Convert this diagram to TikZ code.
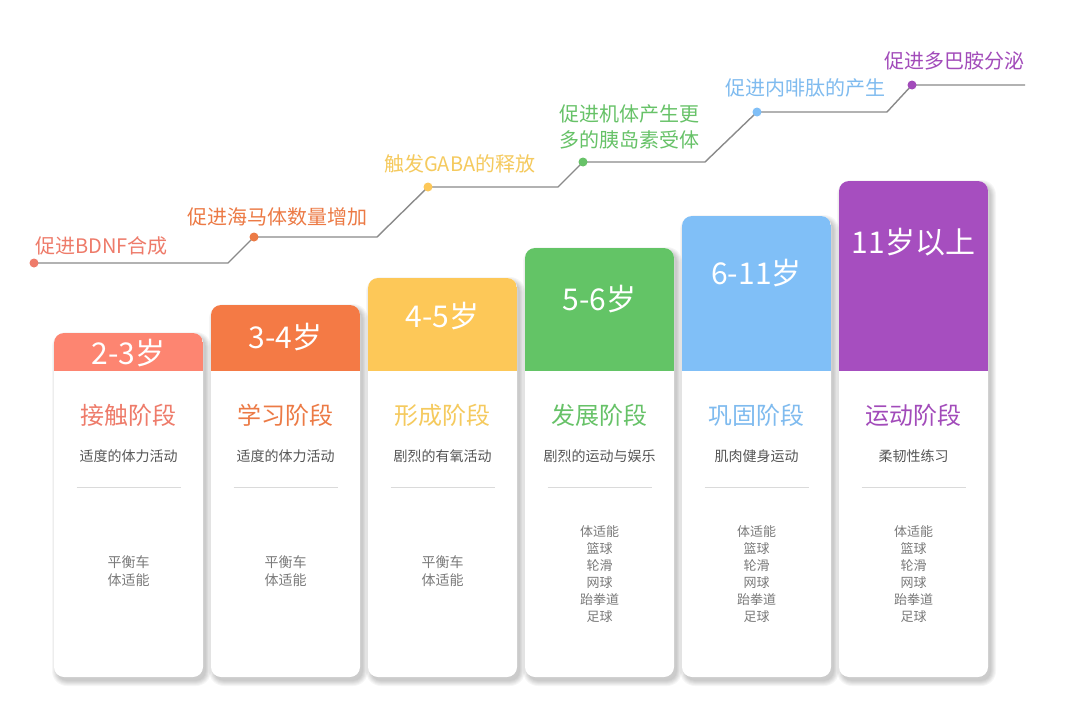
\documentclass[tikz,border=0pt]{standalone}
\usepackage{fontspec}
\setmainfont{Noto Sans CJK SC}
\definecolor{cA}{HTML}{FD8571}
\definecolor{cB}{HTML}{F47A45}
\definecolor{cC}{HTML}{FDC858}
\definecolor{cD}{HTML}{63C466}
\definecolor{cE}{HTML}{80BFF7}
\definecolor{cF}{HTML}{A64EBF}
\definecolor{tA}{HTML}{EE7B6A}
\definecolor{tB}{HTML}{EC7A45}
\definecolor{tC}{HTML}{F5CA5E}
\definecolor{tD}{HTML}{67C268}
\definecolor{tE}{HTML}{7FBBEF}
\definecolor{tF}{HTML}{A24BBA}
\definecolor{lineg}{HTML}{8A8A8A}
\definecolor{subg}{HTML}{555555}
\definecolor{listg}{HTML}{7A7A7A}
\definecolor{divg}{HTML}{DADADA}
\tikzset{
  shadowlayer/.style={fill=black, fill opacity=0.035},
  cardbody/.style={fill=white, rounded corners=10pt},
  agetext/.style={text=white, font=\fontsize{30}{34}\selectfont, inner sep=0pt},
  stagetitle/.style={font=\fontsize{24}{28}\selectfont, inner sep=0pt},
  subtext/.style={text=subg, font=\fontsize{14}{16}\selectfont, inner sep=0pt},
  listsmall/.style={text=listg, align=center, font=\fontsize{13}{17}\selectfont, inner sep=0pt},
  listbig/.style={text=listg, align=center, font=\fontsize{14}{18}\selectfont, inner sep=0pt},
  divline/.style={draw=divg, line width=0.8pt},
  tline/.style={draw=lineg, line width=1.4pt},
  tdot/.style={circle, inner sep=0pt, minimum size=9pt},
  tlabel/.style={anchor=west, inner sep=0pt, font=\fontsize{20}{26}\selectfont, align=left}
}
\newcommand{\stagecard}[7]{%
  \foreach \s in {0,1,2,3,4,5}{
    \fill[shadowlayer, rounded corners=10pt+\s pt] (#1-\s+3,#3-\s+4) rectangle (#2+\s+3,677+\s+4);
  }
  \path[cardbody] (#1,#3) rectangle (#2,677);
  \begin{scope}
    \clip[rounded corners=10pt] (#1,#3) rectangle (#2,677);
    \fill[#4] (#1,#3) rectangle (#2,371);
  \end{scope}
  \node[agetext] (h#5) at ({(#1+#2)/2},#6) {#7};
}
\begin{document}
\begin{tikzpicture}[x=1pt,y=-1pt]
\fill[white] (0,0) rectangle (1080,720);
\useasboundingbox (0,0) rectangle (1080,720);

% cards
\stagecard{54}{203}{333}{cA}{1}{353}{2-3岁}
\stagecard{211}{360}{305}{cB}{2}{337}{3-4岁}
\stagecard{368}{517}{278}{cC}{3}{316}{4-5岁}
\stagecard{525}{674}{248}{cD}{4}{299}{5-6岁}
\stagecard{682}{831}{216}{cE}{5}{273}{6-11岁}
\stagecard{839}{988}{181}{cF}{6}{242}{11岁以上}

% titles
\node[stagetitle, text=tA] (t1) at (128.5,415) {接触阶段};
\node[stagetitle, text=tB] (t2) at (285.5,415) {学习阶段};
\node[stagetitle, text=tC] (t3) at (442.5,415) {形成阶段};
\node[stagetitle, text=tD] (t4) at (599.5,415) {发展阶段};
\node[stagetitle, text=tE] (t5) at (756.5,415) {巩固阶段};
\node[stagetitle, text=tF] (t6) at (913.5,415) {运动阶段};

% subtitles
\node[subtext] (s1) at (128.5,456) {适度的体力活动};
\node[subtext] (s2) at (285.5,456) {适度的体力活动};
\node[subtext] (s3) at (442.5,456) {剧烈的有氧活动};
\node[subtext] (s4) at (599.5,456) {剧烈的运动与娱乐};
\node[subtext] (s5) at (756.5,456) {肌肉健身运动};
\node[subtext] (s6) at (913.5,456) {柔韧性练习};

% dividers
\foreach \cx in {128.5,285.5,442.5,599.5,756.5,913.5}
  \draw[divline] (\cx-52,487) -- (\cx+52,487);

% lists
\node[listbig] (l1) at (128.5,571) {平衡车\\体适能};
\node[listbig] (l2) at (285.5,571) {平衡车\\体适能};
\node[listbig] (l3) at (442.5,571) {平衡车\\体适能};
\node[listsmall] (l4) at (599.5,574.5) {体适能\\篮球\\轮滑\\网球\\跆拳道\\足球};
\node[listsmall] (l5) at (756.5,574.5) {体适能\\篮球\\轮滑\\网球\\跆拳道\\足球};
\node[listsmall] (l6) at (913.5,574.5) {体适能\\篮球\\轮滑\\网球\\跆拳道\\足球};

% timeline
\coordinate (k1) at (228,263);
\coordinate (k2) at (377,237);
\coordinate (k3) at (558,187);
\coordinate (k4) at (705,162);
\coordinate (k5) at (887,112);
\coordinate (ke) at (1025,85);
\node[tdot] (d1) at (34,263) {};
\node[tdot] (d2) at (254,237) {};
\node[tdot] (d3) at (428,187) {};
\node[tdot] (d4) at (583,162) {};
\node[tdot] (d5) at (757,112) {};
\node[tdot] (d6) at (912,85) {};
\draw[tline] (d1.center) -- (k1) -- (d2.center) -- (k2) -- (d3.center) -- (k3) -- (d4.center) -- (k4) -- (d5.center) -- (k5) -- (d6.center) -- (ke);
\fill[tA] (d1.center) circle (4.5pt);
\fill[tB] (d2.center) circle (4.5pt);
\fill[cC] (d3.center) circle (4.5pt);
\fill[tD] (d4.center) circle (4.5pt);
\fill[cE] (d5.center) circle (4.5pt);
\fill[tF] (d6.center) circle (4.5pt);

\node[tlabel, text=tA] (n1) at (35,246) {促进BDNF合成};
\node[tlabel, text=tB] (n2) at (187,217) {促进海马体数量增加};
\node[tlabel, text=tC] (n3) at (384,164) {触发GABA的释放};
\node[tlabel, text=tD] (n4) at (559,127) {促进机体产生更\\多的胰岛素受体};
\node[tlabel, text=tE] (n5) at (725,88) {促进内啡肽的产生};
\node[tlabel, text=tF] (n6) at (884,61) {促进多巴胺分泌};
\end{tikzpicture}
\end{document}
